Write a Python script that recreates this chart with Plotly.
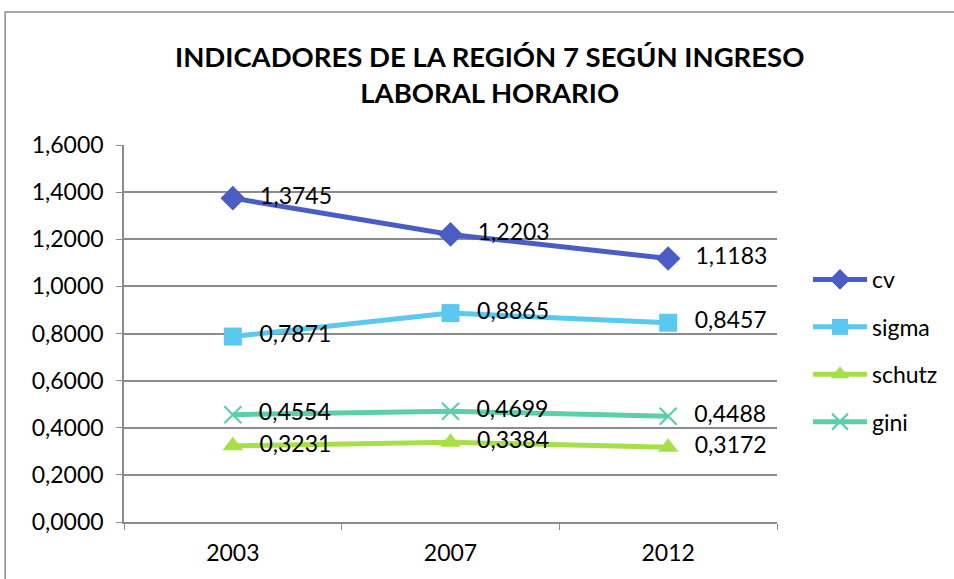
import plotly.graph_objects as go

years = ["2003", "2007", "2012"]
cv = [1.3745, 1.2203, 1.1183]
sigma = [0.7871, 0.8865, 0.8457]
schutz = [0.3231, 0.3384, 0.3172]
gini = [0.4554, 0.4699, 0.4488]
y_ticks = [0, 0.2, 0.4, 0.6, 0.8, 1.0, 1.2, 1.4, 1.6]

FONT = "Lato"
FS = 23
series = [
    ("cv", cv, "#4A5DC4", dict(symbol="diamond", size=19)),
    ("sigma", sigma, "#5BC8F0", dict(symbol="square", size=18)),
    ("schutz", schutz, "#A6E048", dict(symbol="triangle-up", size=18)),
    ("gini", gini, "#5BCFAA", dict(symbol="x-thin", size=17, line=dict(width=2.2, color="#5BCFAA"))),
]

fig = go.Figure()
for name, vals, col, mk in series:
    fig.add_trace(go.Scatter(
        x=years, y=vals, name=name, mode="lines+markers+text",
        line=dict(color=col, width=5),
        marker=dict(color=col, **mk),
        texttemplate="\u2002\u2009%{y:.4f}", textposition="middle right",
        textfont=dict(family=FONT, size=FS, color="#000000"),
        legendgroup=name, cliponaxis=False,
    ))

W, H = 954, 579
L, R, T, B = 124, 176, 145, 57
pw, ph = W - L - R, H - T - B

def px(x):
    return (x - L) / pw

def py(y):
    return (H - B - y) / ph

fig.update_layout(
    width=W, height=H,
    margin=dict(l=L, r=R, t=T, b=B),
    paper_bgcolor="white", plot_bgcolor="white",
    separators=",.",
    font=dict(family=FONT, size=FS, color="#000000"),
    showlegend=True,
    legend=dict(
        x=px(808), y=py(258), xanchor="left", yanchor="top",
        font=dict(family=FONT, size=FS), tracegroupgap=14.5,
        traceorder="grouped", bgcolor="rgba(0,0,0,0)",
        itemwidth=54,
    ),
    xaxis=dict(
        type="category", range=[-0.5, 2.5],
        showline=True, linecolor="#8C8C8C", linewidth=1.5,
        ticks="outside", tickson="boundaries", ticklen=6, tickcolor="#8C8C8C",
        ticklabelstandoff=10,
        showgrid=False, tickfont=dict(family=FONT, size=FS),
    ),
    yaxis=dict(
        range=[0, 1.6], tickvals=y_ticks, tickformat=".4f",
        showline=True, linecolor="#8C8C8C", linewidth=1.5,
        ticks="outside", ticklen=6, tickcolor="#8C8C8C",
        ticklabelstandoff=8,
        showgrid=True, gridcolor="#8C8C8C", gridwidth=1.5,
        zeroline=False, tickfont=dict(family=FONT, size=FS),
    ),
    annotations=[dict(
        text="<b>INDICADORES DE LA REGIÓN 7 SEGÚN INGRESO<br>LABORAL HORARIO</b>",
        xref="paper", yref="paper", x=px(490), y=py(74),
        xanchor="center", yanchor="middle", showarrow=False,
        font=dict(family=FONT, size=27.5, color="#000000"),
    )],
    shapes=[dict(
        type="rect", xref="paper", yref="paper",
        x0=px(5), x1=1.5, y0=-0.3, y1=py(12),
        line=dict(color="#8C8C8C", width=1.5), fillcolor="rgba(0,0,0,0)",
        layer="below",
    )],
)

fig.write_html(
    "out.html",
    config={"displayModeBar": False},
    post_script="document.body.style.margin='0';document.body.style.overflow='hidden';",
)
